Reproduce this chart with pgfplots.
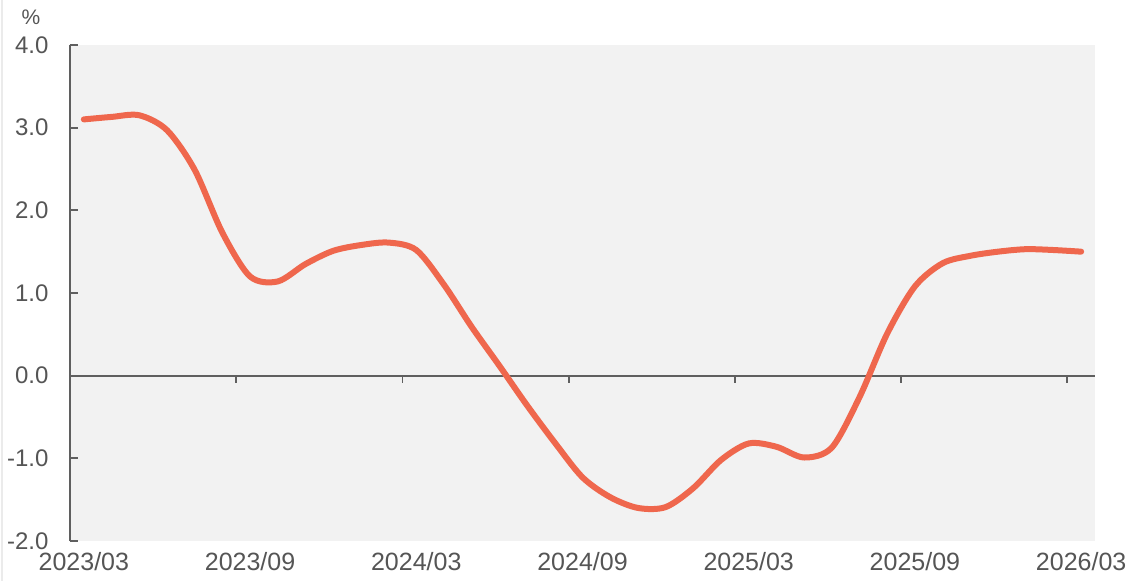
\documentclass[border=0pt]{standalone}
\usepackage{pgfplots}
\pgfplotsset{compat=1.18}
\usepackage{fontspec}
\setmainfont{Liberation Sans}
\definecolor{lineorange}{RGB}{239,103,77}
\definecolor{axgray}{RGB}{95,95,95}
\definecolor{bggray}{RGB}{242,242,242}
\definecolor{txtgray}{RGB}{85,85,85}
\begin{document}
\begin{tikzpicture}
\useasboundingbox (-70pt,-40pt) rectangle (1062pt,541pt);
\draw[draw=black!8, line width=2pt] (-68pt,-40pt) -- (-68pt,541pt);
\begin{axis}[
  at={(0,0)}, anchor=south west,
  scale only axis, width=1025pt, height=496pt,
  xmin=-0.5, xmax=36.5, ymin=-2, ymax=4,
  axis background/.style={fill=bggray},
  axis y line*=left, axis x line*=bottom,
  x axis line style={draw=none},
  y axis line style={axgray, line width=1.8pt},
  xtick={0,6,...,36},
  xticklabels={2023/03,2023/09,2024/03,2024/09,2025/03,2025/09,2026/03},
  xtick style={draw=none},
  ytick={-2,-1,0,1,2,3,4},
  yticklabels={-2.0,-1.0,0.0,1.0,2.0,3.0,4.0},
  ytick style={axgray, line width=1.8pt},
  tick align=inside,
  major tick length=8pt,
  yticklabel style={font=\fontsize{24}{24}\selectfont, text=txtgray, xshift=-18pt},
  xticklabel style={font=\fontsize{25}{25}\selectfont, text=txtgray, yshift=-8pt},
]
\addplot[axgray, line width=1.8pt] coordinates {(-0.5,0) (36.5,0)};
\addplot[ycomb, axgray, line width=1.8pt] coordinates {(5.5,-0.085) (11.5,-0.085) (17.5,-0.085) (23.5,-0.085) (29.5,-0.085) (35.5,-0.085)};
\addplot[lineorange, line width=6pt, smooth, line cap=round, line join=round] coordinates {
(0,3.10) (1,3.13) (2,3.15) (3,2.97) (4,2.49) (5,1.73) (6,1.20) (7,1.14) (8,1.35)
(9,1.51) (10,1.58) (11,1.61) (12,1.52) (13,1.10) (14,0.59) (15,0.12) (16,-0.36)
(17,-0.81) (18,-1.23) (19,-1.47) (20,-1.60) (21,-1.59) (22,-1.36) (23,-1.02) (24,-0.82)
(25,-0.86) (26,-0.99) (27,-0.87) (28,-0.26) (29,0.51) (30,1.08) (31,1.36) (32,1.45)
(33,1.50) (34,1.53) (35,1.52) (36,1.50)};
\end{axis}
\node[font=\fontsize{21}{21}\selectfont, text=txtgray] at (-39pt,524pt) {\%};
\end{tikzpicture}
\end{document}
